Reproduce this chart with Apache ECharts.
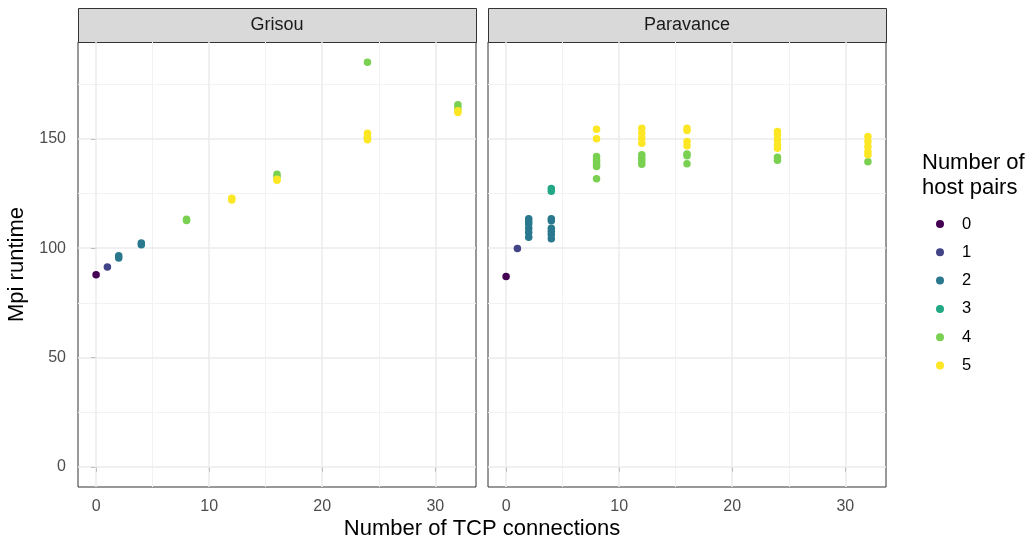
<!DOCTYPE html>
<html>
<head>
<meta charset="utf-8">
<script src="https://cdn.jsdelivr.net/npm/echarts@6/dist/echarts.min.js"></script>
<style>
  html, body { margin: 0; padding: 0; background: #fff; }
  #main { width: 1032px; height: 539px; }
</style>
</head>
<body>
<div id="main"></div>
<script>
// facets and groups
const panels = ["Grisou", "Paravance"];
const groups = ["0", "1", "2", "3", "4", "5"];
const groupColors = ["#440154", "#414487", "#2A788E", "#22A884", "#7AD151", "#FDE725"];

// Grisou: [tcp connections, mpi runtime] per host-pair group
const grisou0 = [[0, 87.8]];
const grisou1 = [[1, 91.3]];
const grisou2 = [[2, 95.5], [2, 96.5], [4, 101.5], [4, 102.3]];
const grisou3 = [];
const grisou4 = [[8, 112.6], [8, 113.2], [16, 133.8], [16, 132.6], [24, 185.0], [24, 150.5], [32, 165.5], [32, 164.0]];
const grisou5 = [[12, 122.0], [12, 122.8], [16, 131.5], [16, 131.0], [24, 152.5], [24, 151.0], [24, 149.5], [32, 162.8], [32, 162.0]];

// Paravance
const paravance0 = [[0, 87.0]];
const paravance1 = [[1, 99.8]];
const paravance2 = [[2, 113.4], [2, 112.2], [2, 111.0], [2, 109.1], [2, 107.1], [2, 105.0],
                    [4, 113.4], [4, 112.5], [4, 109.1], [4, 107.6], [4, 106.2], [4, 104.3]];
const paravance3 = [[4, 127.2], [4, 126.0]];
const paravance4 = [[8, 141.9], [8, 140.4], [8, 139.5], [8, 138.2], [8, 137.3], [8, 131.7],
                    [12, 142.7], [12, 141.2], [12, 140.0], [12, 138.4],
                    [16, 143.0], [16, 142.2], [16, 138.6],
                    [24, 141.6], [24, 140.2], [32, 139.5]];
const paravance5 = [[8, 154.4], [8, 150.0],
                    [12, 154.8], [12, 152.6], [12, 150.3], [12, 148.0],
                    [16, 154.8], [16, 153.8], [16, 148.8], [16, 146.8],
                    [24, 153.3], [24, 151.8], [24, 149.5], [24, 147.3], [24, 145.7],
                    [32, 151.0], [32, 148.8], [32, 146.5], [32, 144.2], [32, 142.7]];

// axis ticks
const xTicks = [0, 10, 20, 30];
const xMinor = [5, 15, 25];
const yTicks = [0, 50, 100, 150];
const yMinor = [25, 75, 125, 175];

const panelData = [
  [grisou0, grisou1, grisou2, grisou3, grisou4, grisou5],
  [paravance0, paravance1, paravance2, paravance3, paravance4, paravance5]
];

const myChart = echarts.init(document.getElementById("main"), null, { renderer: "canvas" });

const FONT = "Liberation Sans, Arial, sans-serif";
const PANEL_LEFT = [78, 488];
const PANEL_W = 398;
const PANEL_TOP = 42;
const PANEL_H = 445;

let grids = [], xAxes = [], yAxes = [], series = [], graphics = [];

panels.forEach((name, i) => {
  grids.push({
    left: PANEL_LEFT[i], top: PANEL_TOP, width: PANEL_W, height: PANEL_H,
    show: true, borderColor: "#333333", borderWidth: 1, backgroundColor: "#fff",
    containLabel: false
  });
  xAxes.push({
    type: "value", gridIndex: i, min: -1.6, max: 33.6,
    axisLine: { show: false },
    axisTick: { show: true, length: 5, customValues: xTicks, lineStyle: { color: "#333333" } },
    axisLabel: { customValues: xTicks, color: "#4D4D4D", fontSize: 16, fontFamily: FONT, margin: 12 },
    splitLine: { show: false }
  });
  yAxes.push({
    type: "value", gridIndex: i, min: -9.25, max: 194.25,
    axisLine: { show: false },
    axisTick: { show: i === 0, length: 5, customValues: yTicks, lineStyle: { color: "#333333" } },
    axisLabel: { show: i === 0, customValues: yTicks, color: "#4D4D4D", fontSize: 16, fontFamily: FONT, margin: 12 },
    splitLine: { show: false },
    name: i === 0 ? "Mpi runtime" : "",
    nameLocation: "middle", nameRotate: 90, nameGap: 50,
    nameTextStyle: { color: "#000", fontSize: 22, fontFamily: FONT }
  });

  // grid lines drawn through the axes' scales
  series.push({
    name: "minor-" + i, type: "scatter", xAxisIndex: i, yAxisIndex: i, data: [], z: 1, silent: true,
    markLine: {
      z: 1, silent: true, symbol: ["none", "none"], label: { show: false }, animation: false,
      lineStyle: { color: "#F2F2F2", width: 1, type: "solid" },
      emphasis: { disabled: true },
      data: yMinor.map(v => ({ yAxis: v })).concat(xMinor.map(v => ({ xAxis: v })))
    }
  });
  series.push({
    name: "major-" + i, type: "scatter", xAxisIndex: i, yAxisIndex: i, data: [], z: 1, silent: true,
    markLine: {
      z: 1, silent: true, symbol: ["none", "none"], label: { show: false }, animation: false,
      lineStyle: { color: "#EBEBEB", width: 1.5, type: "solid" },
      emphasis: { disabled: true },
      data: yTicks.map(v => ({ yAxis: v })).concat(xTicks.map(v => ({ xAxis: v })))
    }
  });

  groups.forEach((g, k) => {
    series.push({
      name: g, type: "scatter", xAxisIndex: i, yAxisIndex: i,
      data: panelData[i][k], symbolSize: 7.5, z: 3,
      itemStyle: { color: groupColors[k], opacity: 1 }
    });
  });

  // facet strip
  graphics.push({
    type: "rect", left: PANEL_LEFT[i], top: 8,
    shape: { width: PANEL_W, height: PANEL_TOP - 8 },
    style: { fill: "#D9D9D9", stroke: "#333333", lineWidth: 1 }
  });
  graphics.push({
    type: "text", x: PANEL_LEFT[i] + PANEL_W / 2, y: 25,
    style: { text: name, fill: "#1A1A1A", font: "18px " + FONT, textAlign: "center", textVerticalAlign: "middle" }
  });
});

graphics.push({
  type: "text", x: 482, y: 529,
  style: { text: "Number of TCP connections", fill: "#000", font: "22px " + FONT, textAlign: "center", textVerticalAlign: "middle" }
});
graphics.push({
  type: "text", x: 922, y: 150,
  style: { text: "Number of\nhost pairs", fill: "#000", font: "22px " + FONT, lineHeight: 25, textAlign: "left", textVerticalAlign: "top" }
});

const option = {
  animation: false,
  backgroundColor: "#fff",
  grid: grids,
  xAxis: xAxes,
  yAxis: yAxes,
  legend: {
    data: groups,
    orient: "vertical",
    left: 931, top: 210.5,
    icon: "circle",
    itemWidth: 8, itemHeight: 8,
    itemGap: 11.3,
    selectedMode: false,
    textStyle: { color: "#000", fontSize: 16.5, fontFamily: FONT, lineHeight: 16, padding: [0, 0, 0, 13] }
  },
  graphic: graphics,
  series: series
};

myChart.setOption(option);
</script>
</body>
</html>
